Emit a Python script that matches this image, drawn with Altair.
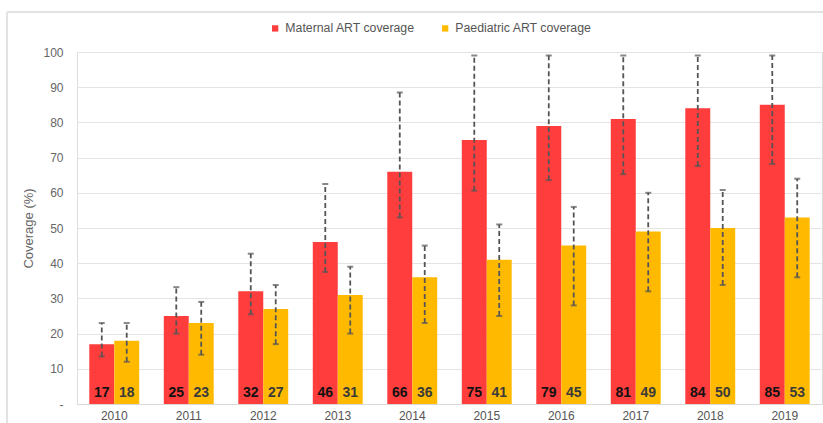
import altair as alt
import pandas as pd

# Coverage series (%), 2010-2019
years = [2010, 2011, 2012, 2013, 2014, 2015, 2016, 2017, 2018, 2019]
series_names = ["Maternal ART coverage", "Paediatric ART coverage"]

maternal = [17, 25, 32, 46, 66, 75, 79, 81, 84, 85]
maternal_lo = [13.5, 20, 25.5, 37.5, 53, 60.6, 63.6, 65.3, 67.6, 68.2]
maternal_hi = [23, 33.2, 42.7, 62.5, 88.5, 99, 99, 99, 99, 99]

paediatric = [18, 23, 27, 31, 36, 41, 45, 49, 50, 53]
paediatric_lo = [12, 14, 17, 20, 23, 25, 28, 32, 33.8, 36]
paediatric_hi = [23, 29, 33.8, 39, 45, 51, 56, 60, 60.8, 64]

y_ticks = [0, 10, 20, 30, 40, 50, 60, 70, 80, 90, 100]

colors = ["#FF3D3D", "#FFBA00"]

rows = []
for i, yr in enumerate(years):
    rows.append(dict(year=str(yr), series=series_names[0], value=maternal[i],
                     lo=maternal_lo[i], hi=maternal_hi[i]))
    rows.append(dict(year=str(yr), series=series_names[1], value=paediatric[i],
                     lo=paediatric_lo[i], hi=paediatric_hi[i]))
df = pd.DataFrame(rows)

FONT = "Liberation Sans"

x_enc = alt.X("year:N", title=None,
              scale=alt.Scale(paddingInner=0.33, paddingOuter=0.165),
              axis=alt.Axis(labelAngle=0, ticks=False, labelPadding=6,
                            labelFontSize=12, labelColor="#555555",
                            domainColor="#d9d9d9", domainWidth=1.2,
                            labelFont=FONT))
xoff = alt.XOffset("series:N", sort=series_names,
                   scale=alt.Scale(domain=series_names))

y_axis = alt.Axis(values=y_ticks, labelOverlap=False,
                  ticks=False, domain=False, labelPadding=14,
                  labelFontSize=12, labelColor="#666666", labelFont=FONT,
                  labelExpr="datum.value == 0 ? '-' : datum.label",
                  titleFontSize=13, titleFontWeight="normal",
                  titleColor="#666666", titleFont=FONT, titlePadding=7,
                  gridColor="#e4e4e4", gridWidth=1.2)
y_scale = alt.Scale(domain=[0, 100], nice=False)
Y_TITLE = "Coverage (%)"

base = alt.Chart(df)

bars = base.mark_bar().encode(
    x=x_enc,
    xOffset=xoff,
    y=alt.Y("value:Q", title=Y_TITLE, scale=y_scale, axis=y_axis),
    color=alt.Color("series:N", sort=series_names,
                    scale=alt.Scale(domain=series_names, range=colors),
                    legend=alt.Legend(title=None, orient="none",
                                      direction="horizontal",
                                      legendX=192, legendY=-30,
                                      symbolType="square", symbolSize=40,
                                      symbolStrokeWidth=0,
                                      labelFontSize=12.3, labelColor="#555555",
                                      labelFont=FONT, labelOffset=4,
                                      columnPadding=24, padding=0)),
)

# Dashed uncertainty ranges with end caps
err = base.mark_rule(color="#555555", strokeWidth=1.8,
                     strokeDash=[5, 3]).encode(
    x="year:N", xOffset=xoff,
    y=alt.Y("lo:Q", title=Y_TITLE, scale=y_scale, axis=y_axis),
    y2="hi:Q")

cap_lo = base.mark_tick(color="#555555", size=6, thickness=2).encode(
    x="year:N", xOffset=xoff,
    y=alt.Y("lo:Q", title=Y_TITLE, scale=y_scale, axis=y_axis))
cap_hi = base.mark_tick(color="#555555", size=6, thickness=2).encode(
    x="year:N", xOffset=xoff,
    y=alt.Y("hi:Q", title=Y_TITLE, scale=y_scale, axis=y_axis))

# Value labels at the foot of each bar
labels = base.mark_text(fontWeight="bold", fontSize=14, baseline="alphabetic",
                        dy=-7, font=FONT).encode(
    x="year:N", xOffset=xoff,
    y=alt.Y(datum=0, title=Y_TITLE, scale=y_scale, axis=y_axis),
    text=alt.Text("value:Q", format="d"),
    color=alt.condition(f"datum.series === '{series_names[0]}'",
                        alt.value("#111111"), alt.value("#3a3a3a")),
)

# Light frame around the figure
frame_top = alt.Chart(df).mark_rule(color="#e2e2e2", strokeWidth=1.2).encode(
    x=alt.value(-70), x2=alt.value(760), y=alt.value(-40))
frame_left = alt.Chart(df).mark_rule(color="#e2e2e2", strokeWidth=1.2).encode(
    x=alt.value(-70), y=alt.value(-40), y2=alt.value(380))

chart = alt.layer(bars, err, cap_lo, cap_hi, labels, frame_top, frame_left).properties(
    width=745, height=352,
    autosize=alt.AutoSizeParams(type="none"),
    padding={"left": 77, "top": 52, "right": 1, "bottom": 19},
).configure_view(stroke=None).configure(background="white")

chart.save("out.html", embed_options={"renderer": "svg", "actions": False})
